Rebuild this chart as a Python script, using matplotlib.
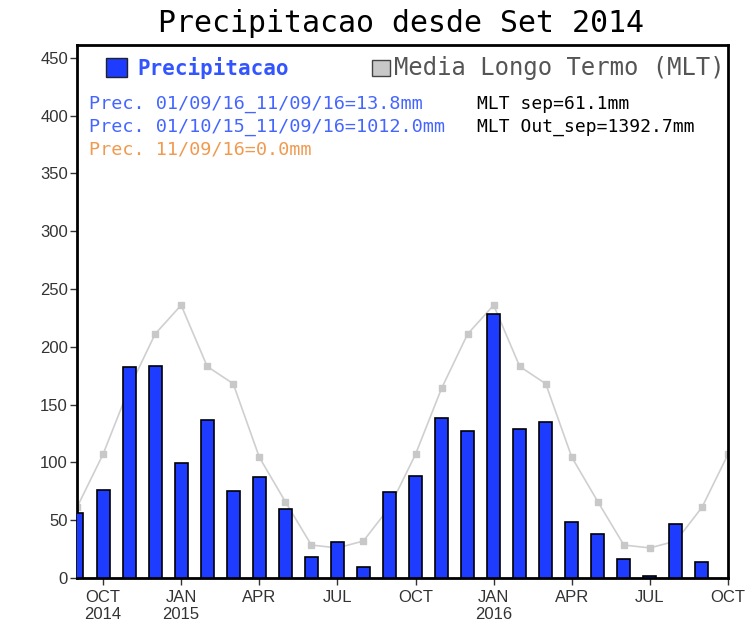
import matplotlib.pyplot as plt
import numpy as np

# precipitacao mensal, set/2014 .. set/2016
meses = ['SET14', 'OUT14', 'NOV14', 'DEZ14', 'JAN15', 'FEV15', 'MAR15', 'ABR15', 'MAI15',
         'JUN15', 'JUL15', 'AGO15', 'SET15', 'OUT15', 'NOV15', 'DEZ15', 'JAN16', 'FEV16',
         'MAR16', 'ABR16', 'MAI16', 'JUN16', 'JUL16', 'AGO16', 'SET16']
precip = [56, 76, 182.5, 183.5, 99.5, 137, 75, 87, 60, 18, 31, 9.5, 74.5,
          88, 138, 127, 228, 129, 135, 48, 38, 16, 2, 47, 13.8]
# media longo termo, set/2014 .. out/2016
mlt = [61.1, 107, 164, 211, 236, 183, 168, 104.5, 66, 28.5, 26, 32,
       61.1, 107, 164, 211, 236, 183, 168, 104.5, 66, 28.5, 26, 32,
       61.1, 107]

tick_pos = [1, 4, 7, 10, 13, 16, 19, 22, 25]
tick_lbl = ['OCT\n2014', 'JAN\n2015', 'APR', 'JUL', 'OCT', 'JAN\n2016', 'APR', 'JUL', 'OCT']

mono = 'DejaVu Sans Mono'

fig = plt.figure(figsize=(7.46, 6.26), dpi=100)
ax = fig.add_axes([0.1032, 0.0767, 0.8727, 0.8514])

ax.plot(np.arange(len(mlt)), mlt, color='#cfcfcf', lw=1.2, marker='s', ms=5,
        mfc='#c8c8c8', mec='#c8c8c8', zorder=2, clip_on=True)
ax.bar(np.arange(len(precip)), precip, width=0.5, color='#1e3cff', edgecolor='black',
       linewidth=1.2, zorder=3)

ax.set_xlim(0, 25)
ax.set_ylim(0, 461)
ax.set_yticks(range(0, 451, 50))
ax.set_xticks(tick_pos)
ax.set_xticklabels(tick_lbl)
ax.tick_params(axis='both', direction='out', length=5, width=1, colors='#333333',
               labelsize=12)
ax.tick_params(axis='y', pad=1.5)
for lbl in ax.get_xticklabels() + ax.get_yticklabels():
    lbl.set_family('Liberation Sans')
for s in ax.spines.values():
    s.set_linewidth(2)
    s.set_color('black')

fig.text(0.538, 0.963, 'Precipitacao desde Set 2014', ha='center', va='center',
         fontsize=21.5, color='black', family=mono)

# legenda
fig.patches.append(plt.Rectangle((106 / 746, 1 - 77 / 626), 21 / 746, 19 / 626,
                                 transform=fig.transFigure, facecolor='#1e3cff',
                                 edgecolor='#222222', lw=1))
fig.text(137 / 746, 1 - 68 / 626, 'Precipitacao', color='#3355ff', fontsize=15,
         fontweight='bold', va='center', family=mono)
fig.patches.append(plt.Rectangle((372 / 746, 1 - 76 / 626), 18 / 746, 16 / 626,
                                 transform=fig.transFigure, facecolor='#c8c8c8',
                                 edgecolor='#444444', lw=1))
fig.text(394 / 746, 1 - 68 / 626, 'Media Longo Termo (MLT)', color='#555555',
         fontsize=17.2, va='center', family=mono)

fig.text(89 / 746, 1 - 104 / 626, 'Prec. 01/09/16_11/09/16=13.8mm', color='#4466ff',
         fontsize=13.3, va='center', family=mono)
fig.text(89 / 746, 1 - 127 / 626, 'Prec. 01/10/15_11/09/16=1012.0mm', color='#4466ff',
         fontsize=13.3, va='center', family=mono)
fig.text(89 / 746, 1 - 150 / 626, 'Prec. 11/09/16=0.0mm', color='#f09a50',
         fontsize=13.3, va='center', family=mono)
fig.text(477 / 746, 1 - 104 / 626, 'MLT sep=61.1mm', color='black', fontsize=13,
         va='center', family=mono)
fig.text(477 / 746, 1 - 127 / 626, 'MLT Out_sep=1392.7mm', color='black', fontsize=13,
         va='center', family=mono)

fig.savefig('out.png', dpi=100)
